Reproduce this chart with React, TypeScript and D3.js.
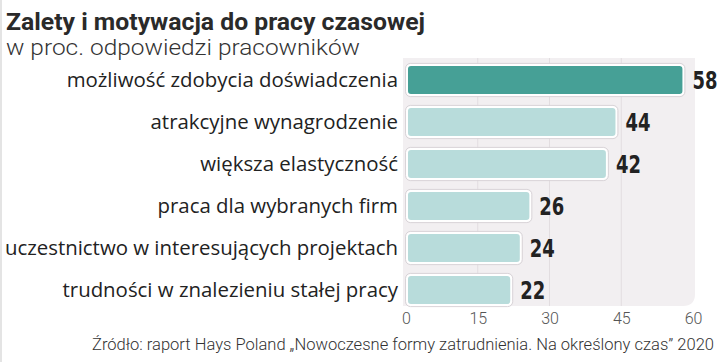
import * as React from "react"
import * as d3 from "d3"

const categories = [
  "możliwość zdobycia doświadczenia",
  "atrakcyjne wynagrodzenie",
  "większa elastyczność",
  "praca dla wybranych firm",
  "uczestnictwo w interesujących projektach",
  "trudności w znalezieniu stałej pracy",
]
const values = [58, 44, 42, 26, 24, 22]
const ticks = [0, 15, 30, 45, 60]

const title = "Zalety i motywacja do pracy czasowej"
const subtitle = "w proc. odpowiedzi pracowników"
const source = "Źródło: raport Hays Poland „Nowoczesne formy zatrudnienia. Na określony czas” 2020"

const W = 720
const H = 362

export default function App() {
  const svgRef = React.useRef<SVGSVGElement>(null)

  React.useEffect(() => {
    const svg = d3.select(svgRef.current)
    svg.selectAll("*").remove()

    const x = d3.scaleLinear().domain([0, 60]).range([406, 693])
    const y = d3
      .scaleBand()
      .domain(categories)
      .range([59, 311])
      .paddingInner(0.28)
      .paddingOuter(0.14)

    svg.append("rect").attr("width", W).attr("height", H).attr("fill", "#fff")
    svg
      .append("line")
      .attr("x1", 1)
      .attr("x2", 1)
      .attr("y1", 0)
      .attr("y2", H)
      .attr("stroke", "#e4e4e4")
      .attr("stroke-width", 2)

    // panel behind the bars
    svg
      .append("path")
      .attr("d", () => {
        const x0 = 403, y0 = 58, x1 = 695, y1 = 306, r = 12
        return `M${x0},${y0}H${x1}V${y1 - r}Q${x1},${y1} ${x1 - r},${y1}H${x0}Z`
      })
      .attr("fill", "#f2eff1")

    svg
      .append("g")
      .selectAll("line")
      .data(ticks.slice(1, -1))
      .join("line")
      .attr("x1", (d) => x(d))
      .attr("x2", (d) => x(d))
      .attr("y1", 58)
      .attr("y2", 306)
      .attr("stroke", "#e2dde0")
      .attr("stroke-width", 1)

    const rows = svg
      .append("g")
      .selectAll("g")
      .data(categories)
      .join("g")
      .attr("transform", (d) => `translate(0,${y(d)})`)

    rows
      .append("rect")
      .attr("x", x(0) + 1)
      .attr("y", 0)
      .attr("width", (_d, i) => x(values[i]) - x(0) - 1)
      .attr("height", y.bandwidth())
      .attr("rx", 4)
      .attr("fill", (_d, i) => (i === 0 ? "#46a096" : "#b8dcdb"))
      .attr("stroke", "#ffffff")
      .attr("stroke-width", 2)

    rows
      .append("rect")
      .attr("x", x(0) - 0.5)
      .attr("y", -1.5)
      .attr("width", (_d, i) => x(values[i]) - x(0) + 2)
      .attr("height", y.bandwidth() + 3)
      .attr("rx", 5)
      .attr("fill", "none")
      .attr("stroke", "#d9d4d8")
      .attr("stroke-width", 1)

    rows
      .append("text")
      .attr("x", 398)
      .attr("y", y.bandwidth() / 2 + 7)
      .attr("text-anchor", "end")
      .attr("font-family", "'Open Sans', sans-serif")
      .attr("font-size", 20.4)
      .attr("fill", "#222")
      .text((d) => d)

    rows
      .append("text")
      .attr("x", (_d, i) => x(values[i]) + 9)
      .attr("y", y.bandwidth() / 2 + 9)
      .attr("font-family", "'DejaVu Sans', sans-serif")
      .attr("font-weight", "bold")
      .attr("font-size", 24)
      .attr("fill", "#222")
      .attr("textLength", 25)
      .attr("lengthAdjust", "spacingAndGlyphs")
      .text((_d, i) => values[i])

    const axis = svg
      .append("g")
      .attr("transform", "translate(0,306)")
      .call(d3.axisBottom(x).tickValues(ticks).tickSize(0).tickPadding(7))
    axis.select(".domain").remove()
    axis
      .selectAll("text")
      .attr("font-family", "Roboto, sans-serif")
      .attr("font-weight", 300)
      .attr("font-size", 16)
      .attr("fill", "#555")

    svg
      .append("text")
      .attr("x", 6)
      .attr("y", 30)
      .attr("font-family", "Roboto, sans-serif")
      .attr("font-weight", "bold")
      .attr("font-size", 23)
      .attr("fill", "#2a2a2a")
      .attr("textLength", 419)
      .attr("lengthAdjust", "spacingAndGlyphs")
      .text(title)

    svg
      .append("text")
      .attr("x", 6)
      .attr("y", 55)
      .attr("font-family", "Roboto, sans-serif")
      .attr("font-weight", 300)
      .attr("font-size", 22)
      .attr("fill", "#333")
      .attr("textLength", 354)
      .attr("lengthAdjust", "spacingAndGlyphs")
      .text(subtitle)

    svg
      .append("text")
      .attr("x", 92)
      .attr("y", 350)
      .attr("font-family", "Roboto, sans-serif")
      .attr("font-weight", 300)
      .attr("font-size", 17)
      .attr("fill", "#333")
      .attr("textLength", 622)
      .attr("lengthAdjust", "spacingAndGlyphs")
      .text(source)
  }, [])

  return (
    <svg
      ref={svgRef}
      width={W}
      height={H}
      style={{ position: "absolute", left: 0, top: 0 }}
    ></svg>
  )
}
